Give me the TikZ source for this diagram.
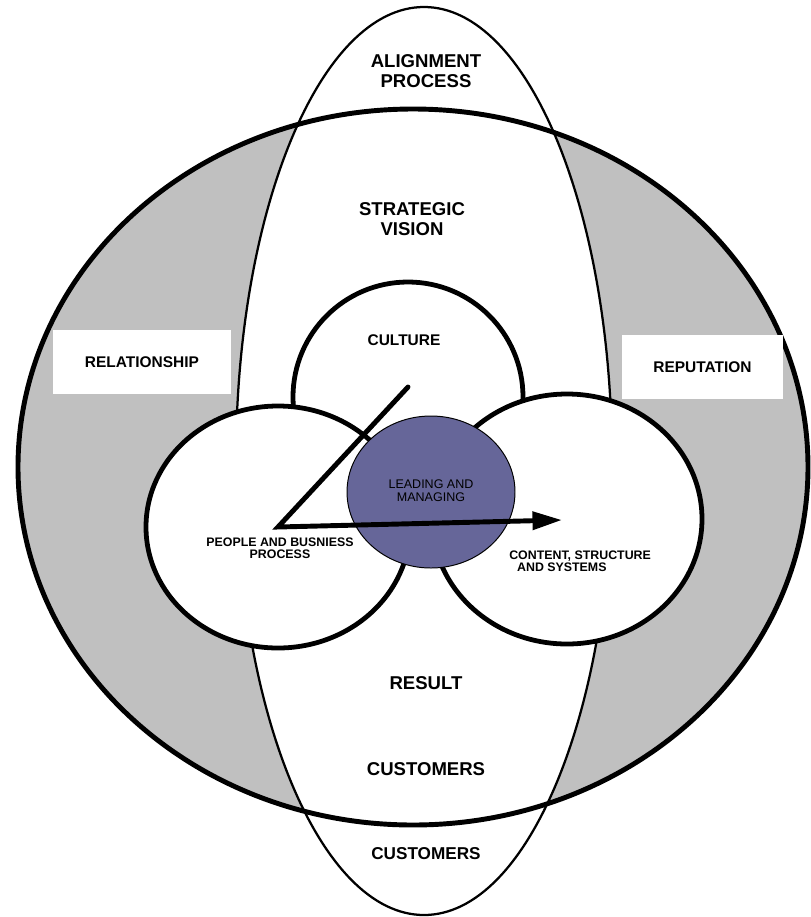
\documentclass[tikz,border=0pt]{standalone}
\usepackage{fontspec}
\setmainfont{Liberation Sans}
\usetikzlibrary{arrows.meta}
\definecolor{ringgray}{HTML}{C0C0C0}
\definecolor{leadblue}{HTML}{666699}

\tikzset{
  bigtext/.style={inner sep=0pt, align=center, font=\bfseries\fontsize{13.2pt}{14.2pt}\selectfont},
  midtext/.style={inner sep=0pt, align=center, font=\bfseries\fontsize{11pt}{12pt}\selectfont},
  smalltext/.style={inner sep=0pt, align=center, font=\bfseries\fontsize{8.8pt}{8.9pt}\selectfont},
  tagbox/.style={midtext, fill=white, minimum height=64*0.025cm},
  rim/.style={line width=3.4pt, fill=white}
}

\begin{document}
\begin{tikzpicture}[x=0.025cm, y=-0.025cm]
\useasboundingbox (0,0) rectangle (811,917);
\coordinate (outer) at (413,467);
\coordinate (axis) at (424,461);
\coordinate (culture) at (408,397);
\coordinate (people) at (278,527);
\coordinate (content) at (567,519);
\coordinate (leading) at (431,492);
\fill[ringgray] (outer) ellipse [x radius=395, y radius=358];
\draw[line width=1.6pt, fill=white] (axis) ellipse [x radius=188, y radius=454];
\draw[line width=3.5pt] (outer) ellipse [x radius=395, y radius=358];
\node[tagbox, minimum width=178*0.025cm] (relation) at (142,362) {RELATIONSHIP};
\node[tagbox, minimum width=161*0.025cm] (reput) at (702.5,367) {REPUTATION};
\draw[rim] (culture) circle [radius=115];
\draw[rim] (people) ellipse [x radius=132, y radius=121];
\draw[rim] (content) ellipse [x radius=135, y radius=125];
\draw[line width=0.7pt, fill=leadblue] (leading) ellipse [x radius=84, y radius=76];

\node[bigtext] (align) at (426,71) {ALIGNMENT\\PROCESS};
\node[bigtext] (vision) at (412,219) {STRATEGIC\\VISION};
\node[midtext] (cult) at (404,340) {CULTURE};
\node[smalltext] (ppl) at (280,548) {PEOPLE AND BUSNIESS\\PROCESS};
\node[inner sep=0pt, align=center, font=\fontsize{8.9pt}{9pt}\selectfont] (lead) at (431,491) {LEADING AND\\MANAGING};
\node[smalltext, align=left, anchor=west] (sys) at (509,561) {CONTENT, STRUCTURE\\\hspace{5.6pt}AND SYSTEMS};
\node[bigtext] (result) at (426,683) {RESULT};
\node[bigtext] (cust) at (426,769) {CUSTOMERS};
\node[bigtext, font=\bfseries\fontsize{12.2pt}{13pt}\selectfont] (custb) at (426,854) {CUSTOMERS};

\coordinate (tail) at (408,387);
\coordinate (tip) at (562,520);
\draw[line width=3.5pt, line cap=round, -{Triangle[length=21pt, width=12.5pt]}] (tail) -- (people) -- (tip);
\end{tikzpicture}
\end{document}
